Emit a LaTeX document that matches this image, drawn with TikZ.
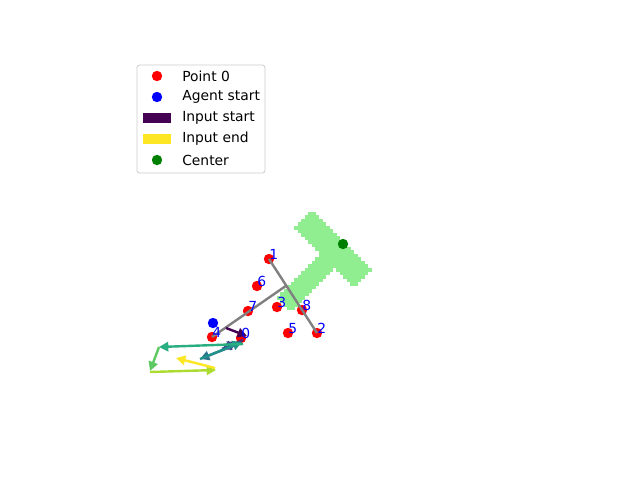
\documentclass[tikz,border=0pt]{standalone}
\usepackage{fontspec}
\setmainfont{DejaVu Sans}
\usetikzlibrary{arrows.meta,calc}
\definecolor{vA}{HTML}{440154}
\definecolor{vB}{HTML}{472D7B}
\definecolor{vC}{HTML}{3B528B}
\definecolor{vD}{HTML}{2C728E}
\definecolor{vE}{HTML}{21918C}
\definecolor{vF}{HTML}{28AE80}
\definecolor{vG}{HTML}{5EC962}
\definecolor{vH}{HTML}{ADDC30}
\definecolor{vI}{HTML}{FDE725}
\definecolor{tgreen}{HTML}{90EE90}
\definecolor{cgreen}{HTML}{008000}
\definecolor{lgframe}{HTML}{CCCCCC}
\tikzset{
  pt/.style={circle,fill=#1,inner sep=0pt,minimum size=7.8pt},
  lbl/.style={anchor=base west,inner sep=0pt,text=blue,font=\fontsize{10.4}{12}\selectfont},
  gline/.style={draw=gray,line width=1.8pt},
  qv/.style={draw=#1,line width=1.8pt,-{Triangle[length=7pt,width=7pt]}},
  lgtext/.style={anchor=west,inner sep=0pt,font=\fontsize{10.4}{12}\selectfont},
  lgbox/.style={fill=#1,minimum width=21pt,minimum height=7pt,inner sep=0pt},
}
\begin{document}
\begin{tikzpicture}[x=0.75pt,y=-0.75pt]
\useasboundingbox (0,0) rectangle (640,480);
\fill[white] (0,0) rectangle (640,480);
% T shape, drawn as pixel cells
\foreach \i in {0,...,31} {
  \foreach \j in {0,...,32} {
    \pgfmathsetmacro\cx{270+3.5*\i+1.75}
    \pgfmathsetmacro\cy{205+3.5*\j+1.75}
    \pgfmathsetmacro\uu{(\cx+\cy)/1.41421}
    \pgfmathsetmacro\vv{(\cy-\cx)/1.41421}
    \pgfmathtruncatemacro\ins{((\uu>=370)&&(\uu<=454)&&(\vv>=-71)&&(\vv<=-47)) || ((\uu>=406)&&(\uu<=425)&&(\vv>=-47)&&(\vv<=14)) ? 1 : 0}
    \ifnum\ins=1
      \fill[tgreen] (\cx-1.8,\cy-1.8) rectangle (\cx+1.8,\cy+1.8);
    \fi
  }
}
% points
\node[pt=red] (p0) at (241,338) {};
\node[pt=red] (p1) at (269,259) {};
\node[pt=red] (p2) at (317,333) {};
\node[pt=red] (p3) at (277,307) {};
\node[pt=red] (p4) at (212,337) {};
\node[pt=red] (p5) at (288,333) {};
\node[pt=red] (p6) at (257,286) {};
\node[pt=red] (p7) at (248,311) {};
\node[pt=red] (p8) at (302,310) {};
\node[pt=blue] (ag) at (213,323) {};
\node[pt=cgreen] (ce) at (343,244) {};
% gray lines
\coordinate (m) at ($(p1.center)!0.36!(p2.center)$);
\draw[gline] (p1.center) -- (p2.center);
\draw[gline] (p4.center) -- (m);
% arrows
\coordinate (q0) at (226,328);
\coordinate (q1) at (247,336);
\coordinate (q2a) at (243,340);
\coordinate (q2) at (222,349);
\coordinate (q3) at (237,342);
\coordinate (q3a) at (238,344);
\coordinate (q4) at (200,359);
\coordinate (q5) at (242,342);
\coordinate (q5a) at (243,344);
\coordinate (q6) at (159,347);
\coordinate (q7) at (150,371);
\coordinate (q7a) at (150,372);
\coordinate (q8) at (216,370);
\coordinate (q8a) at (215,368);
\coordinate (q9) at (176,358);
\draw[qv=vA] (q0) -- (q1);
\draw[qv=vB] (q2a) -- (q2);
\draw[qv=vC] (q2) -- (q3);
\draw[qv=vD] (q3a) -- (q4);
\draw[qv=vE] (q4) -- (q5);
\draw[qv=vF] (q5a) -- (q6);
\draw[qv=vG] (q6) -- (q7);
\draw[qv=vH] (q7a) -- (q8);
\draw[qv=vI] (q8a) -- (q9);
% labels
\node[lbl] (l0) at (p0.center) {0};
\node[lbl] (l1) at (p1.center) {1};
\node[lbl] (l2) at (p2.center) {2};
\node[lbl] (l3) at (p3.center) {3};
\node[lbl] (l4) at (p4.center) {4};
\node[lbl] (l5) at (p5.center) {5};
\node[lbl] (l6) at (p6.center) {6};
\node[lbl] (l7) at (p7.center) {7};
\node[lbl] (l8) at (p8.center) {8};
% legend
\draw[lgframe,fill=white,rounded corners=2pt,line width=0.6pt] (137,65) rectangle (265,173);
\node[pt=red] (k1) at (157,76) {};
\node[pt=blue] (k2) at (157,97) {};
\node[lgbox=vA] (k3) at (157,118) {};
\node[lgbox=vI] (k4) at (157,139) {};
\node[pt=cgreen] (k5) at (157,160) {};
\node[lgtext] (t1) at (182,76) {Point 0};
\node[lgtext] (t2) at (182,97) {Agent start};
\node[lgtext] (t3) at (182,118) {Input start};
\node[lgtext] (t4) at (182,139) {Input end};
\node[lgtext] (t5) at (182,160) {Center};
\end{tikzpicture}
\end{document}
